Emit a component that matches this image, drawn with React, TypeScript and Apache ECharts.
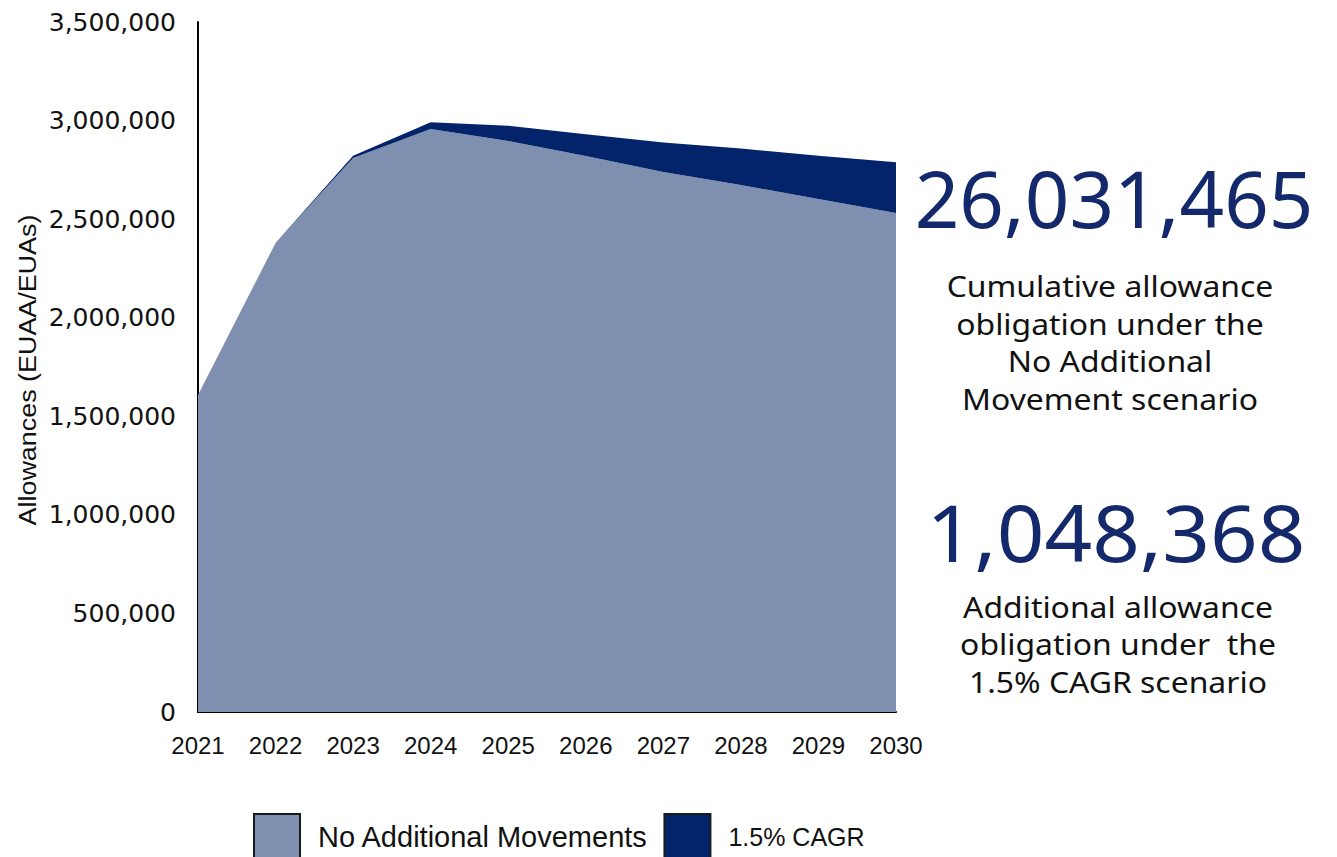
import React, { useEffect, useRef } from "react";
import * as echarts from "echarts";

const years = ["2021", "2022", "2023", "2024", "2025", "2026", "2027", "2028", "2029", "2030"];
const noAdditional = [1608000, 2379000, 2810000, 2957000, 2896000, 2820000, 2739000, 2673000, 2602000, 2531000];
const cagrExtra = [0, 0, 12000, 35000, 78000, 110000, 150000, 185000, 220000, 258000];
const seriesNames = ["No Additional Movements", "1.5% CAGR"];
const bigNumbers = ["26,031,465", "1,048,368"];
const captions = [
  "Cumulative allowance\nobligation under the\nNo Additional\nMovement scenario",
  "Additional allowance\nobligation under  the\n1.5% CAGR scenario",
];

const LIGHT = "#7F8FAF";
const DARK = "#03236A";
const NAVY_TEXT = "#14296B";

export default function App() {
  const ref = useRef<HTMLDivElement>(null);
  useEffect(() => {
    if (!ref.current) return;
    const chart = echarts.init(ref.current, null, { renderer: "svg" });
    chart.setOption({
      animation: false,
      backgroundColor: "#ffffff",
      grid: { left: 198, right: 441, top: 22, bottom: 145, containLabel: false },
      xAxis: {
        type: "category",
        data: years,
        boundaryGap: false,
        axisLine: { show: true, lineStyle: { color: "#000", width: 2 } },
        axisTick: { show: false },
        axisLabel: {
          color: "#111",
          fontFamily: "Liberation Sans",
          fontSize: 24,
          margin: 21,
          interval: 0,
        },
        splitLine: { show: false },
      },
      yAxis: {
        type: "value",
        min: 0,
        max: 3500000,
        interval: 500000,
        axisLine: { show: true, lineStyle: { color: "#000", width: 2 } },
        axisTick: { show: false },
        splitLine: { show: false },
        axisLabel: {
          color: "#111",
          fontFamily: "DejaVu Sans",
          fontSize: 25,
          margin: 22,
          formatter: (v: number) => v.toLocaleString("en-US"),
        },
      },
      legend: {
        left: 248,
        top: 808,
        itemWidth: 46,
        itemHeight: 46,
        itemGap: 15,
        icon: "rect",
        itemStyle: { borderColor: "#1a1a1a", borderWidth: 2 },
        textStyle: {
          color: "#111",
          fontFamily: "Liberation Sans",
          fontSize: 29,
          padding: [0, 0, 0, 13],
        },
        data: [
          { name: seriesNames[0] },
          { name: seriesNames[1], textStyle: { fontSize: 25 } },
        ],
      },
      series: [
        {
          name: seriesNames[0],
          type: "line",
          stack: "total",
          data: noAdditional,
          symbol: "none",
          lineStyle: { width: 0 },
          itemStyle: { color: LIGHT },
          areaStyle: { color: LIGHT, opacity: 1 },
        },
        {
          name: seriesNames[1],
          type: "line",
          stack: "total",
          data: cagrExtra,
          symbol: "none",
          lineStyle: { width: 0 },
          itemStyle: { color: DARK },
          areaStyle: { color: DARK, opacity: 1 },
        },
      ],
      graphic: [
        {
          type: "text",
          x: 28,
          y: 370,
          rotation: Math.PI / 2,
          scaleX: 1.17,
          style: {
            text: "Allowances (EUAA/EUAs)",
            font: "23px 'Liberation Sans'",
            fill: "#111",
            textAlign: "center",
            textVerticalAlign: "middle",
          },
        },
        {
          type: "text",
          x: 1114,
          y: 198,
          style: {
            text: bigNumbers[0],
            font: "78px 'Noto Sans'",
            lineHeight: 60,
            fill: NAVY_TEXT,
            textAlign: "center",
            textVerticalAlign: "middle",
          },
        },
        {
          type: "text",
          x: 1110,
          y: 342,
          scaleX: 1.1,
          style: {
            text: captions[0],
            font: "29px 'Noto Sans'",
            lineHeight: 37.7,
            fill: "#111",
            textAlign: "center",
            textVerticalAlign: "middle",
          },
        },
        {
          type: "text",
          x: 1116,
          y: 532,
          scaleX: 1.07,
          style: {
            text: bigNumbers[1],
            font: "78px 'Noto Sans'",
            lineHeight: 60,
            fill: NAVY_TEXT,
            textAlign: "center",
            textVerticalAlign: "middle",
          },
        },
        {
          type: "text",
          x: 1118,
          y: 644,
          scaleX: 1.1,
          style: {
            text: captions[1],
            font: "29px 'Noto Sans'",
            lineHeight: 37.7,
            fill: "#111",
            textAlign: "center",
            textVerticalAlign: "middle",
          },
        },
      ],
    });
    return () => chart.dispose();
  }, []);
  return (
    <div
      ref={ref}
      style={{ position: "fixed", left: 0, top: 0, width: 1337, height: 857, background: "#fff" }}
    />
  );
}
